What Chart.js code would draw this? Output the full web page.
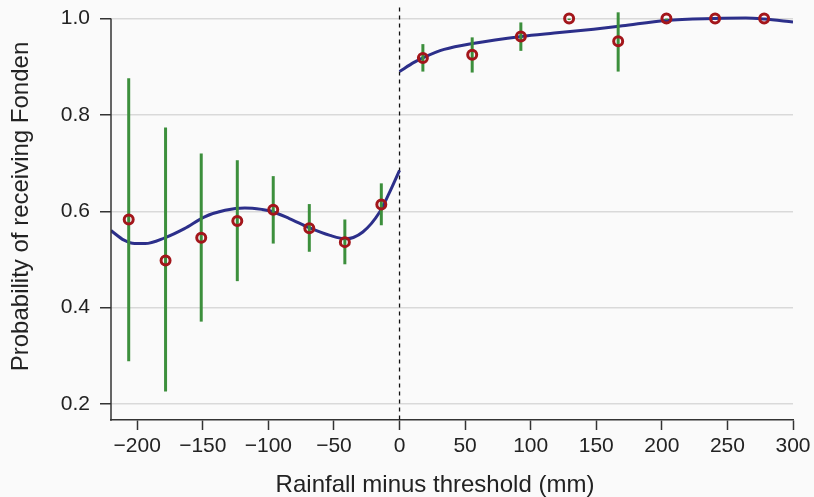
<!DOCTYPE html>
<html>
<head>
<meta charset="utf-8">
<script src="https://cdn.jsdelivr.net/npm/chart.js@4"></script>
<style>
  body { margin: 0; background: #fafafa; }
  #caixa { width: 814px; height: 497px; }
</style>
</head>
<body>
<div id="caixa"><canvas id="grafico" width="814" height="497"></canvas></div>
<script>
// binned means (red circles) and their confidence bars (green)
var binX = [-206.5, -178.4, -151.2, -123.7, -96.3, -68.8, -41.7, -13.9, 17.8, 55.4, 92.5, 129.3, 166.7, 203.5, 240.6, 278];
var binY = [0.583, 0.498, 0.545, 0.580, 0.603, 0.565, 0.536, 0.614, 0.918, 0.925, 0.963, 1.0, 0.953, 1.0, 1.0, 1.0];
var barLo = [0.289, 0.226, 0.371, 0.455, 0.533, 0.516, 0.490, 0.571, 0.890, 0.888, 0.933, 0.997, 0.890, 0.997, null, null];
var barHi = [0.876, 0.774, 0.720, 0.706, 0.673, 0.615, 0.583, 0.658, 0.947, 0.961, 0.992, 1.0, 1.013, 1.0, null, null];

// fitted curve, left and right of the threshold
var fitEsqX = [-220, -210, -202, -194, -179, -164, -149, -133, -118, -105, -99, -84, -69, -53, -41, -28, -15, -8, 0];
var fitEsqY = [0.560, 0.540, 0.533, 0.533, 0.545, 0.564, 0.588, 0.602, 0.607, 0.604, 0.601, 0.585, 0.566, 0.550, 0.543, 0.557, 0.599, 0.637, 0.685];
var fitDirX = [0, 11, 19, 34, 57, 93, 118, 148, 170, 203, 240, 264, 278, 300];
var fitDirY = [0.890, 0.909, 0.920, 0.936, 0.949, 0.963, 0.970, 0.978, 0.985, 0.996, 1.000, 1.001, 0.999, 0.993];

var ticksX = [-200, -150, -100, -50, 0, 50, 100, 150, 200, 250, 300];
var ticksY = [0.2, 0.4, 0.6, 0.8, 1.0];

var tituloX = 'Rainfall minus threshold (mm)';
var tituloY = 'Probability of receiving Fonden';

function pares(xs, ys) {
    return xs.map(function (x, i) { return { x: x, y: ys[i] }; });
}

var fonte = '"Liberation Sans", Arial, Helvetica, sans-serif';
var corTexto = '#222222';

var extras = {
    id: 'extras',
    beforeDatasetsDraw: function (chart) {
        var ctx = chart.ctx, area = chart.chartArea;
        var px = chart.scales.x.getPixelForValue(0);
        ctx.save();
        ctx.strokeStyle = '#111111';
        ctx.lineWidth = 1.3;
        ctx.setLineDash([4, 4]);
        ctx.beginPath();
        ctx.moveTo(px, area.top);
        ctx.lineTo(px, area.bottom);
        ctx.stroke();
        ctx.restore();
    },
    afterDatasetDraw: function (chart, args) {
        if (args.index !== 1) return;
        var ctx = chart.ctx, sx = chart.scales.x, sy = chart.scales.y;
        ctx.save();
        ctx.strokeStyle = '#3c8f3c';
        ctx.lineWidth = 3;
        for (var i = 0; i < binX.length; i++) {
            if (barLo[i] === null) continue;
            var px = sx.getPixelForValue(binX[i]);
            ctx.beginPath();
            ctx.moveTo(px, sy.getPixelForValue(barLo[i]));
            ctx.lineTo(px, sy.getPixelForValue(barHi[i]));
            ctx.stroke();
        }
        ctx.restore();
    },
    afterDraw: function (chart) {
        var ctx = chart.ctx, area = chart.chartArea, sy = chart.scales.y;
        ctx.save();
        // y axis line, from the top tick down
        ctx.strokeStyle = '#333333';
        ctx.lineWidth = 1.5;
        ctx.beginPath();
        ctx.moveTo(area.left, sy.getPixelForValue(ticksY[ticksY.length - 1]));
        ctx.lineTo(area.left, area.bottom + 0.75);
        ctx.stroke();
        // axis titles
        ctx.fillStyle = corTexto;
        ctx.font = '24px ' + fonte;
        ctx.textAlign = 'center';
        ctx.textBaseline = 'alphabetic';
        ctx.fillText(tituloX, 435, 492);
        ctx.translate(28, 206.5);
        ctx.rotate(-Math.PI / 2);
        ctx.fillText(tituloY, 0, 0);
        ctx.restore();
    }
};

var config = {
    type: 'scatter',
    data: {
        datasets: [
            {
                label: 'bins',
                data: pares(binX, binY),
                pointRadius: 4.5,
                pointBorderWidth: 3,
                pointBorderColor: '#a3161b',
                pointBackgroundColor: 'rgba(0,0,0,0)',
                showLine: false
            },
            {
                label: 'fit left',
                data: pares(fitEsqX, fitEsqY),
                showLine: true,
                borderColor: '#2c2f8a',
                borderWidth: 3,
                pointRadius: 0,
                cubicInterpolationMode: 'monotone'
            },
            {
                label: 'fit right',
                data: pares(fitDirX, fitDirY),
                showLine: true,
                borderColor: '#2c2f8a',
                borderWidth: 3,
                pointRadius: 0,
                cubicInterpolationMode: 'monotone'
            }
        ]
    },
    options: {
        responsive: false,
        animation: false,
        layout: { padding: { left: 0, right: 21, top: 7, bottom: 0 } },
        plugins: {
            legend: { display: false },
            tooltip: { enabled: false }
        },
        scales: {
            x: {
                type: 'linear',
                min: -220,
                max: 300,
                afterBuildTicks: function (scale) {
                    scale.ticks = ticksX.map(function (v) { return { value: v }; });
                },
                afterFit: function (scale) {
                    scale.height = 77;
                    scale.paddingLeft = 0;
                    scale.paddingRight = 0;
                },
                border: { display: true, color: '#333333', width: 1.5 },
                grid: {
                    drawOnChartArea: false,
                    drawTicks: true,
                    tickLength: 10,
                    tickColor: '#333333',
                    tickWidth: 1.5
                },
                ticks: {
                    color: corTexto,
                    font: { family: fonte, size: 21 },
                    padding: 4,
                    maxRotation: 0,
                    callback: function (v) {
                        return v < 0 ? '\u2212' + Math.abs(v) : String(v);
                    }
                }
            },
            y: {
                min: 0.1668,
                max: 1.023,
                afterBuildTicks: function (scale) {
                    scale.ticks = ticksY.map(function (v) { return { value: v }; });
                },
                afterFit: function (scale) {
                    scale.width = 111;
                    scale.paddingTop = 0;
                    scale.paddingBottom = 0;
                },
                border: { display: false },
                grid: {
                    color: '#d9d9d9',
                    lineWidth: 1.5,
                    drawTicks: true,
                    tickLength: 11,
                    tickColor: '#333333',
                    tickWidth: 1.5
                },
                ticks: {
                    color: corTexto,
                    font: { family: fonte, size: 21 },
                    padding: 10,
                    callback: function (v) { return v.toFixed(1); }
                }
            }
        }
    },
    plugins: [extras]
};

var grafico = new Chart(document.getElementById('grafico'), config);
</script>
</body>
</html>
